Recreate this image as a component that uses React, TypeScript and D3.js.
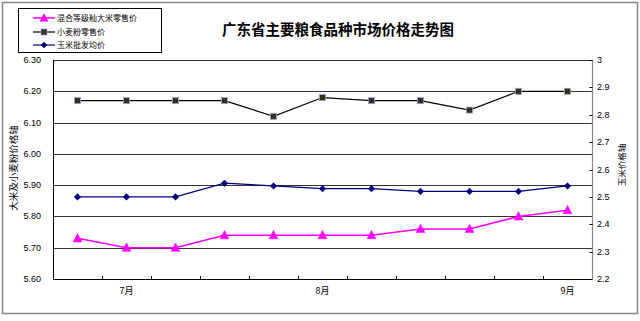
import React from "react";
import * as d3 from "d3";

const categories = ["p1", "p2", "p3", "p4", "p5", "p6", "p7", "p8", "p9", "p10", "p11"];
const monthLabels = ["", "7月", "", "", "", "8月", "", "", "", "", "9月"];
const riceValues = [5.73, 5.70, 5.70, 5.74, 5.74, 5.74, 5.74, 5.76, 5.76, 5.80, 5.82];
const wheatValues = [6.17, 6.17, 6.17, 6.17, 6.12, 6.18, 6.17, 6.17, 6.14, 6.20, 6.20];
const cornValues = [2.50, 2.50, 2.50, 2.55, 2.54, 2.53, 2.53, 2.52, 2.52, 2.52, 2.54];
const leftTicks = [5.6, 5.7, 5.8, 5.9, 6.0, 6.1, 6.2, 6.3];
const rightTicks = [2.2, 2.3, 2.4, 2.5, 2.6, 2.7, 2.8, 2.9, 3.0];
const seriesNames = ["混合等级籼大米零售价", "小麦粉零售价", "玉米批发均价"];
const title = "广东省主要粮食品种市场价格走势图";
const leftTitle = "大米及小麦粉价格轴";
const rightTitle = "玉米价格轴";

const W = 640;
const H = 321;
const L = 53, R = 592, T = 60, B = 279;
const cjk = "'Noto Sans CJK SC', 'Noto Sans', sans-serif";
const num = "'Liberation Sans', Arial, sans-serif";

export default function App() {
  const x = d3.scaleBand<string>().domain(categories).range([L, R]).paddingInner(0).paddingOuter(0);
  const yL = d3.scaleLinear().domain([5.6, 6.3]).range([B, T]);
  const yR = d3.scaleLinear().domain([2.2, 3.0]).range([B, T]);
  const cx = (c: string) => (x(c) as number) + x.bandwidth() / 2;

  const lineL = d3.line<number>().x((_, i) => cx(categories[i])).y((d) => yL(d));
  const lineR = d3.line<number>().x((_, i) => cx(categories[i])).y((d) => yR(d));

  const tri = (px: number, py: number, s: number) =>
    `M${px},${py - s * 0.6} L${px + s * 0.55},${py + s * 0.45} L${px - s * 0.55},${py + s * 0.45} Z`;
  const dia = (px: number, py: number, s: number) =>
    `M${px},${py - s} L${px + s},${py} L${px},${py + s} L${px - s},${py} Z`;

  const bounds = categories.map((c) => x(c) as number).slice(1);

  const legendY = [18, 32, 45];

  return (
    <div style={{ position: "absolute", left: 0, top: 0 }}>
      <svg width={W} height={H} style={{ display: "block" }}>
        <rect x={0} y={0} width={W} height={H} fill="#fff" />
        <rect x={2.5} y={2.5} width={635} height={311} fill="#fff" stroke="#888" strokeWidth={1.5} />

        {/* gridlines */}
        {leftTicks.map((t) => (
          <line key={t} x1={L} x2={R} y1={Math.round(yL(t)) + 0.5} y2={Math.round(yL(t)) + 0.5} stroke="#333" strokeWidth={1} />
        ))}

        {/* axes */}
        <line x1={L + 0.5} x2={L + 0.5} y1={T} y2={B + 0.5} stroke="#000" />
        <line x1={L} x2={R} y1={B + 0.5} y2={B + 0.5} stroke="#000" />
        <line x1={R + 0.5} x2={R + 0.5} y1={T} y2={B + 0.5} stroke="#888" strokeWidth={1.2} />
        {bounds.map((b, i) => (
          <line key={i} x1={Math.round(b) + 0.5} x2={Math.round(b) + 0.5} y1={B} y2={B - 3} stroke="#000" />
        ))}
        {rightTicks.map((t) => (
          <line key={t} x1={R - 2.5} x2={R + 0.5} y1={Math.round(yR(t)) + 0.5} y2={Math.round(yR(t)) + 0.5} stroke="#000" />
        ))}

        {/* tick labels */}
        {leftTicks.map((t) => (
          <text key={t} x={41} y={yL(t) + 3} textAnchor="end" fontFamily={num} fontSize={9} fill="#000">
            {t.toFixed(2)}
          </text>
        ))}
        {rightTicks.map((t) => (
          <text key={t} x={597} y={yR(t) + 3} textAnchor="start" fontFamily={num} fontSize={9} fill="#000">
            {t === 3 ? "3" : t.toFixed(1)}
          </text>
        ))}
        {categories.map((c, i) =>
          monthLabels[i] ? (
            <text key={c} x={cx(c)} y={294} textAnchor="middle" fontFamily={cjk} fontSize={9} fill="#000">
              {monthLabels[i]}
            </text>
          ) : null
        )}

        {/* axis titles */}
        <text transform={`translate(17,168) rotate(-90)`} textAnchor="middle" fontFamily={cjk} fontSize={9.5} fill="#000">
          {leftTitle}
        </text>
        <text transform={`translate(625,165) rotate(-90)`} textAnchor="middle" fontFamily={cjk} fontSize={8.5} fill="#000">
          {rightTitle}
        </text>

        {/* title */}
        <text x={338} y={35} textAnchor="middle" fontFamily={cjk} fontSize={14.5} fontWeight="bold" fill="#000">
          {title}
        </text>

        {/* series */}
        <path d={lineR(cornValues) || ""} fill="none" stroke="#000080" strokeWidth={1.2} />
        <path d={lineL(wheatValues) || ""} fill="none" stroke="#000" strokeWidth={1.2} />
        <path d={lineL(riceValues) || ""} fill="none" stroke="#ff00ff" strokeWidth={1.6} />

        {cornValues.map((v, i) => (
          <path key={"c" + i} d={dia(cx(categories[i]), yR(v), 3.3)} fill="#000080" stroke="#000080" strokeWidth={0.5} />
        ))}
        {wheatValues.map((v, i) => (
          <rect key={"w" + i} x={cx(categories[i]) - 3} y={yL(v) - 3} width={6} height={6} fill="#333300" stroke="#9999ff" strokeWidth={0.8} />
        ))}
        {riceValues.map((v, i) => (
          <path key={"r" + i} d={tri(cx(categories[i]), yL(v), 8)} fill="#ff00ff" stroke="#ff00ff" strokeWidth={0.5} />
        ))}

        {/* legend */}
        <rect x={18.5} y={8.5} width={143} height={44} fill="#fff" stroke="#000" strokeWidth={1} />
        <line x1={33} x2={55} y1={legendY[0]} y2={legendY[0]} stroke="#ff00ff" strokeWidth={1.6} />
        <path d={tri(44, legendY[0], 8)} fill="#ff00ff" />
        <line x1={33} x2={55} y1={legendY[1]} y2={legendY[1]} stroke="#000" strokeWidth={1.2} />
        <rect x={41} y={legendY[1] - 3} width={6} height={6} fill="#333300" stroke="#9999ff" strokeWidth={0.8} />
        <line x1={33} x2={55} y1={legendY[2]} y2={legendY[2]} stroke="#000080" strokeWidth={1.2} />
        <path d={dia(44, legendY[2], 3.3)} fill="#000080" />
        {seriesNames.map((n, i) => (
          <text key={n} x={57} y={legendY[i] + 3} fontFamily={cjk} fontSize={8} fill="#000">
            {n}
          </text>
        ))}
      </svg>
    </div>
  );
}
